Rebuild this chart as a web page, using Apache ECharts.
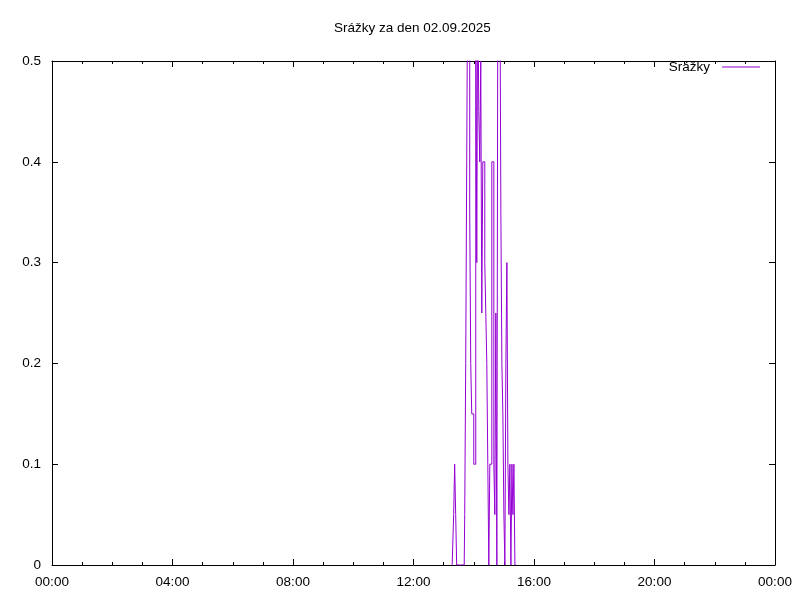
<!DOCTYPE html>
<html>
<head>
<meta charset="utf-8">
<script src="https://cdn.jsdelivr.net/npm/echarts@6/dist/echarts.min.js"></script>
<style>html,body{margin:0;padding:0;background:#fff}#c{width:800px;height:600px}</style>
</head>
<body>
<div id="c"></div>
<script>
const chartTitle = 'Srážky za den 02.09.2025';
const seriesName = 'Srážky';
const xTickLabels = ['00:00','04:00','08:00','12:00','16:00','20:00','00:00'];
const yTickLabels = ['0','0.1','0.2','0.3','0.4','0.5'];
const rainTimes = ['13:17','13:19','13:21','13:23','13:25','13:27','13:41',
  '13:43','13:45','13:47','13:49','13:51','13:53','13:55','13:57','13:59',
  '14:01','14:03','14:05','14:07','14:09','14:11','14:13','14:15','14:17','14:19',
  '14:21','14:23','14:25','14:27','14:29','14:31','14:33','14:35','14:37','14:39',
  '14:41','14:43','14:45','14:47','14:49','14:51','14:53','14:55','14:57','14:59',
  '15:01','15:03','15:05','15:07','15:09','15:11','15:13','15:15','15:17','15:19',
  '15:21','15:23','15:25'];
const rainValues = [0,0,0.05,0.1,0.05,0,0,
  0.05,0.2,0.4,0.6,0.6,0.35,0.2,0.15,0.15,
  0.1,0.1,0.6,0.3,0.6,0.45,0.4,0.5,0.25,0.4,
  0.4,0.3,0.25,0.2,0.1,0,0.1,0.1,0.4,0.4,
  0.1,0.05,0.25,0,0.6,0.6,0.6,0.35,0.2,0.15,
  0.05,0,0.2,0.3,0.1,0.05,0.1,0,0.1,0.05,
  0.1,0,0];

function toHours(s){const p=s.split(':');return +p[0]+(+p[1])/60;}
const data = rainTimes.map((t,i)=>[toHours(t), rainValues[i]]);

const FONT = 'Liberation Sans, Arial, sans-serif';
const FS = 13.5;
const black = '#000';
const purple = '#9400D3';
const axisCommon = {
  axisLine:{show:true,onZero:false,lineStyle:{color:black,width:1}},
  axisTick:{show:true,inside:true,length:6,lineStyle:{color:black,width:1}},
  splitLine:{show:false}
};
const chart = echarts.init(document.getElementById('c'),null,{renderer:'canvas'});
chart.setOption({
  animation:false,
  backgroundColor:'#fff',
  title:{text:chartTitle,left:334,top:21,padding:0,
    textStyle:{fontFamily:FONT,fontSize:FS,fontWeight:'normal',color:black}},
  legend:{right:40,top:60,padding:0,align:'right',icon:'rect',itemWidth:38,itemHeight:1.2,
    textStyle:{fontFamily:FONT,fontSize:FS,color:black,padding:[0,7,0,0]},
    data:[{name:seriesName,itemStyle:{color:purple}}]},
  grid:{left:52,right:25,top:61,bottom:35,show:false},
  xAxis:[
    Object.assign({type:'value',min:0,max:24,interval:4,position:'bottom',
      minorTick:{show:true,splitNumber:4,length:3,lineStyle:{color:black}},
      axisLabel:{show:true,margin:10,fontFamily:FONT,fontSize:FS,color:black,
        formatter:(v,i)=>xTickLabels[i]}},axisCommon),
    Object.assign({type:'value',min:0,max:24,interval:4,position:'top',
      minorTick:{show:true,splitNumber:4,length:3,lineStyle:{color:black}},
      axisLabel:{show:false}},axisCommon)
  ],
  yAxis:[
    Object.assign({type:'value',min:0,max:0.5,interval:0.1,position:'left',
      axisLabel:{show:true,margin:11,fontFamily:FONT,fontSize:FS,color:black,
        formatter:(v,i)=>yTickLabels[i]}},axisCommon),
    Object.assign({type:'value',min:0,max:0.5,interval:0.1,position:'right',
      axisLabel:{show:false}},axisCommon)
  ],
  series:[{name:seriesName,type:'line',step:'middle',data:data,symbol:'none',showSymbol:false,
    clip:true,lineStyle:{color:purple,width:1},itemStyle:{color:purple}}]
});
</script>
</body>
</html>
